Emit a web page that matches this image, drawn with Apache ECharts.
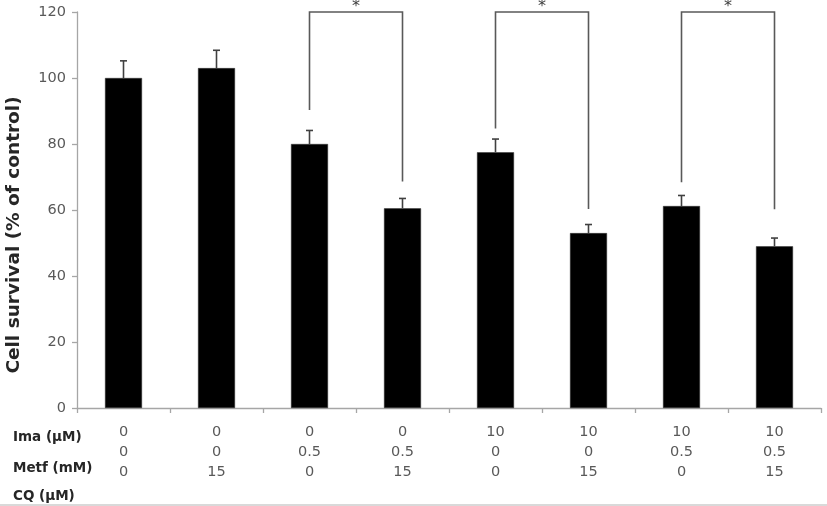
<!DOCTYPE html>
<html>
<head>
<meta charset="utf-8">
<script src="https://cdn.jsdelivr.net/npm/echarts@6/dist/echarts.min.js"></script>
<style>html,body{margin:0;padding:0;background:#fff;}#c{width:827px;height:506px;}</style>
</head>
<body>
<div id="c"></div>
<script>
// Data
const ima = [0, 0, 0, 0, 10, 10, 10, 10];
const metf = [0, 0, 0.5, 0.5, 0, 0, 0.5, 0.5];
const cq = [0, 15, 0, 15, 0, 15, 0, 15];
const survival = [100, 103, 80, 60.5, 77.5, 53, 61.2, 49];
const errors = [5.2, 5.4, 4.1, 3, 4, 2.6, 3.2, 2.5];
const rowLabels = ['Ima (\u00b5M)', 'Metf (mM)', 'CQ (\u00b5M)'];
const yTicks = [0, 20, 40, 60, 80, 100, 120];
// brackets: [leftIndex, rightIndex, leftBottom, rightBottom, top]
const brackets = [
  [2, 3, 90.3, 68.6, 120],
  [4, 5, 84.7, 60.3, 120],
  [6, 7, 68.4, 60.2, 120]
];

const categories = ima.map((v, i) => i);
const chart = echarts.init(document.getElementById('c'));
const font = "'DejaVu Sans', 'Noto Sans', sans-serif";

chart.setOption({
  animation: false,
  grid: { left: 77, right: 6, top: 12, bottom: 98, containLabel: false, outerBoundsMode: 'none' },
  xAxis: {
    type: 'category',
    data: categories,
    axisLine: { lineStyle: { color: '#a6a6a6', width: 1.3 } },
    axisTick: { show: true, length: 5, lineStyle: { color: '#a6a6a6', width: 1.3 } },
    axisLabel: {
      formatter: (v, i) => ima[i] + '\n' + metf[i] + '\n' + cq[i],
      fontFamily: font, fontSize: 14.5, color: '#595959', lineHeight: 20, margin: 14
    }
  },
  yAxis: {
    type: 'value', min: 0, max: 120, interval: 20,
    name: 'Cell survival (% of control)',
    nameLocation: 'middle', nameGap: 53,
    nameTextStyle: { fontFamily: font, fontSize: 18.5, fontWeight: 'bold', color: '#262626', padding: [0, 50, 0, 0] },
    axisLine: { show: true, lineStyle: { color: '#a6a6a6', width: 1.3 } },
    axisTick: { show: true, length: 5, inside: false, lineStyle: { color: '#a6a6a6', width: 1.3 } },
    splitLine: { show: false },
    axisLabel: {
      formatter: v => yTicks.includes(v) ? String(v) : '',
      fontFamily: font, fontSize: 14.5, color: '#595959', margin: 11
    }
  },
  series: [
    {
      type: 'bar', data: survival, barWidth: 37,
      itemStyle: { color: '#000', borderColor: '#333', borderWidth: 0.5 }
    },
    {
      type: 'custom',
      data: survival.map((v, i) => [i, v, v + errors[i]]),
      renderItem: (params, api) => {
        const b = api.coord([api.value(0), api.value(1)]);
        const t = api.coord([api.value(0), api.value(2)]);
        const style = { stroke: '#404040', lineWidth: 1.6 };
        return {
          type: 'group', children: [
            { type: 'line', shape: { x1: b[0], y1: b[1], x2: t[0], y2: t[1] }, style },
            { type: 'line', shape: { x1: t[0] - 3.5, y1: t[1], x2: t[0] + 3.5, y2: t[1] }, style }
          ]
        };
      },
      z: 3
    },
    {
      type: 'custom',
      clip: false,
      data: brackets,
      renderItem: (params, api) => {
        const l = api.coord([api.value(0), api.value(2)]);
        const r = api.coord([api.value(1), api.value(3)]);
        const lt = api.coord([api.value(0), api.value(4)]);
        const rt = api.coord([api.value(1), api.value(4)]);
        const style = { stroke: '#595959', lineWidth: 1.6, fill: null };
        return {
          type: 'group', children: [
            { type: 'polyline', shape: { points: [l, lt, rt, r] }, style },
            { type: 'text', style: { text: '*', x: (lt[0] + rt[0]) / 2, y: lt[1] - 13, align: 'center', verticalAlign: 'top', fontSize: 16, fontFamily: font, fill: '#404040' } }
          ]
        };
      },
      z: 4
    }
  ],
  graphic: [
    { type: 'text', left: 13, top: 430, style: { text: rowLabels[0], fontFamily: font, fontSize: 13.5, fontWeight: 'bold', fill: '#262626' } },
    { type: 'text', left: 13, top: 461, style: { text: rowLabels[1], fontFamily: font, fontSize: 13.5, fontWeight: 'bold', fill: '#262626' } },
    { type: 'text', left: 13, top: 489, style: { text: rowLabels[2], fontFamily: font, fontSize: 13.5, fontWeight: 'bold', fill: '#262626' } },
    { type: 'rect', left: 0, top: 504, shape: { width: 827, height: 2 }, style: { fill: '#d9d9d9' } }
  ]
});
</script>
</body>
</html>
